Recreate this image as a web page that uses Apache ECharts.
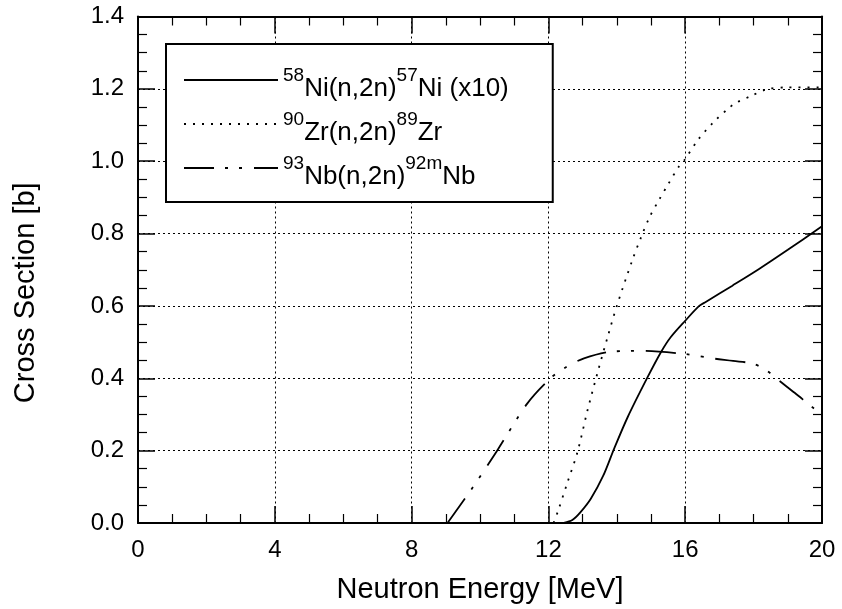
<!DOCTYPE html>
<html>
<head>
<meta charset="utf-8">
<script src="https://cdn.jsdelivr.net/npm/echarts@6/dist/echarts.min.js"></script>
<style>
html,body{margin:0;padding:0;background:#fff;}
#c{width:842px;height:609px;}
</style>
</head>
<body>
<div id="c"></div>
<script>
// ---- data ----
const seriesNames = ['58Ni(n,2n)57Ni (x10)', '90Zr(n,2n)89Zr', '93Nb(n,2n)92mNb'];
const legendRichText = [
  '{s|58}{n|Ni(n,2n)}{s|57}{n|Ni (x10)}',
  '{s|90}{n|Zr(n,2n)}{s|89}{n|Zr}',
  '{s|93}{n|Nb(n,2n)}{s|92m}{n|Nb}'
];
const niEnergy = [12.45, 12.7, 12.94, 13.24, 13.6, 13.92, 14.32, 14.9, 15.29, 15.58, 16.0, 16.41, 16.6, 17.38, 18.16, 19.0, 20];
const niValue  = [0.0, 0.008, 0.03, 0.067, 0.13, 0.205, 0.293, 0.403, 0.472, 0.514, 0.559, 0.60, 0.611, 0.656, 0.702, 0.755, 0.82];
const zrEnergy = [12.15, 12.27, 12.55, 12.85, 13.14, 13.45, 13.75, 14.0, 14.46, 14.71, 14.95, 15.24, 15.5, 15.82, 16.0, 16.38, 16.82, 17.24, 17.48, 17.92, 18.4, 19.0, 20];
const zrValue  = [0.0, 0.03, 0.11, 0.196, 0.31, 0.42, 0.52, 0.60, 0.728, 0.79, 0.844, 0.894, 0.936, 0.986, 1.006, 1.06, 1.107, 1.144, 1.161, 1.18, 1.199, 1.204, 1.204];
const nbEnergy = [9.05, 9.8, 10.5, 11.38, 12.06, 12.5, 13.04, 13.88, 14.75, 16.0, 16.8, 17.4, 18.0, 18.4, 18.74, 19.2, 19.72, 20];
const nbValue  = [0.0, 0.10, 0.20, 0.33, 0.40, 0.43, 0.455, 0.474, 0.476, 0.467, 0.455, 0.448, 0.44, 0.42, 0.394, 0.36, 0.32, 0.30];
const xTitle = 'Neutron Energy [MeV]';
const yTitle = 'Cross Section [b]';

const FONT = '"Liberation Sans", Arial, Helvetica, sans-serif';
function pairs(xs, ys) { return xs.map((x, i) => [x, ys[i]]); }

const chart = echarts.init(document.getElementById('c'), null, {renderer: 'canvas'});

const gridLine = {show: true, lineStyle: {color: '#000', width: 1, type: [2, 3]}};
function xAxisCfg(pos, withLabels) {
  return {
    type: 'value', position: pos, min: 0, max: 20, interval: 4,
    axisLine: {show: true, onZero: false, lineStyle: {color: '#000', width: 2}},
    axisTick: {show: true, inside: true, length: 17, lineStyle: {color: '#000', width: 1.5}},
    minorTick: {show: true, splitNumber: 4, length: 9, lineStyle: {color: '#000', width: 1.2}},
    axisLabel: {show: withLabels, color: '#000', fontSize: 24, fontFamily: FONT, margin: 15},
    splitLine: withLabels ? gridLine : {show: false},
    minorSplitLine: {show: false},
    name: withLabels ? xTitle : '',
    nameLocation: 'middle', nameGap: 52,
    nameTextStyle: {color: '#000', fontSize: 29, fontFamily: FONT}
  };
}
function yAxisCfg(pos, withLabels) {
  return {
    type: 'value', position: pos, min: 0, max: 1.4, interval: 0.2,
    axisLine: {show: true, onZero: false, lineStyle: {color: '#000', width: 2}},
    axisTick: {show: true, inside: true, length: 17, lineStyle: {color: '#000', width: 1.5}},
    minorTick: {show: true, splitNumber: 4, length: 9, lineStyle: {color: '#000', width: 1.2}},
    axisLabel: {show: withLabels, color: '#000', fontSize: 24, fontFamily: FONT, margin: 14,
      padding: [8, 0, 0, 0],
      formatter: v => v.toFixed(1)},
    splitLine: withLabels ? gridLine : {show: false},
    minorSplitLine: {show: false},
    name: withLabels ? yTitle : '',
    nameLocation: 'middle', nameGap: 98, nameRotate: 90,
    nameTextStyle: {color: '#000', fontSize: 29, fontFamily: FONT, padding: [0, 46, 0, 0]}
  };
}

const option = {
  backgroundColor: '#fff',
  animation: false,
  textStyle: {fontFamily: FONT},
  grid: {left: 138, right: 20, top: 16.5, bottom: 84.3, containLabel: false},
  xAxis: [xAxisCfg('bottom', true), xAxisCfg('top', false)],
  yAxis: [yAxisCfg('left', true), yAxisCfg('right', false)],
  legend: {
    show: true, orient: 'vertical', left: 166, top: 44,
    selectedMode: false,
    itemWidth: 94, itemHeight: 14, itemGap: 0,
    padding: [14, 44, 12, 17],
    backgroundColor: '#fff', borderColor: '#000', borderWidth: 2,
    itemStyle: {opacity: 0, borderWidth: 0},
    data: seriesNames,
    formatter: name => legendRichText[seriesNames.indexOf(name)],
    textStyle: {
      color: '#000', fontFamily: FONT, fontSize: 26,
      rich: {
        n: {fontSize: 26, fontFamily: FONT, color: '#000', lineHeight: 44, verticalAlign: 'bottom'},
        s: {fontSize: 19, fontFamily: FONT, color: '#000', lineHeight: 19, verticalAlign: 'top', padding: [8.5, 0, 0, 0]}
      }
    }
  },
  series: [
    {name: seriesNames[0], type: 'line', data: pairs(niEnergy, niValue), symbol: 'none', smooth: 0.3,
     lineStyle: {color: '#000', width: 1.8, type: 'solid'}, itemStyle: {color: '#000'}},
    {name: seriesNames[1], type: 'line', data: pairs(zrEnergy, zrValue), symbol: 'none', smooth: 0.3,
     lineStyle: {color: '#000', width: 1.8, type: [2, 7]}, itemStyle: {color: '#000'}},
    {name: seriesNames[2], type: 'line', data: pairs(nbEnergy, nbValue), symbol: 'none', smooth: 0.3,
     lineStyle: {color: '#000', width: 1.8, type: [30, 11, 3, 11, 3, 12]}, itemStyle: {color: '#000'}}
  ]
};
chart.setOption(option);
</script>
</body>
</html>
